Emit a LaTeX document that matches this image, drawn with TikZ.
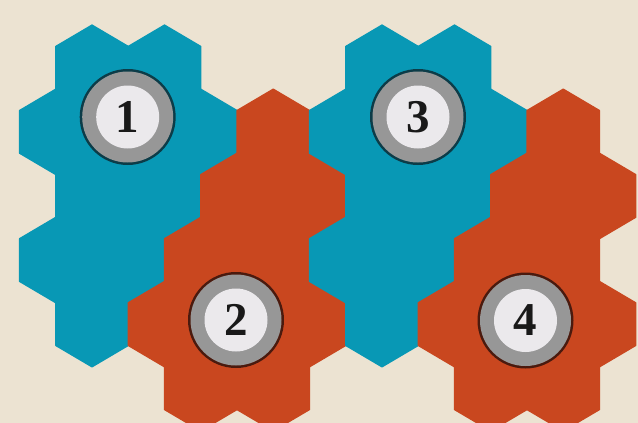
\documentclass[tikz,border=0pt]{standalone}
\usepackage{fontspec}
\setmainfont{Liberation Serif}
\definecolor{bgc}{HTML}{ECE3D2}
\definecolor{bluec}{HTML}{0898B5}
\definecolor{redc}{HTML}{C9471F}
\definecolor{bluering}{HTML}{0C3C48}
\definecolor{redring}{HTML}{4A1A0E}
\definecolor{greyring}{HTML}{979797}
\definecolor{diskc}{HTML}{EBE9EC}
\tikzset{
  hexcell/.pic={
    \path[pic actions] (0,-42.75) -- (36.25,-21.375) -- (36.25,21.375) -- (0,42.75)
      -- (-36.25,21.375) -- (-36.25,-21.375) -- cycle;
  },
  bluehex/.style={fill=bluec,draw=bluec,line width=1.2pt,line join=round},
  redhex/.style={fill=redc,draw=redc,line width=1.2pt,line join=round},
  numlabel/.style={font=\fontsize{47}{47}\selectfont\bfseries,text=black!90,inner sep=0pt}
}
\newcommand{\markercircle}[4]{%
  \fill[#4] (#1,#2) circle (48);
  \fill[greyring] (#1,#2) circle (45.5);
  \fill[diskc] (#1,#2) circle (31.5);
  \node[numlabel] (n#3) at (#1,#2) {#3};
}
\begin{document}
\begin{tikzpicture}[x=1pt,y=-1pt]
\fill[bgc] (0,0) rectangle (638,423);
\useasboundingbox (0,0) rectangle (638,423);
\def\rA{67.75}\def\rB{131.85}\def\rC{195.95}\def\rD{260.05}\def\rE{324.15}\def\rF{388.25}
\foreach \dx in {0,290}{
  % blue shape
  \foreach \cx/\cy in {92/\rA,164.5/\rA,
                       55.75/\rB,128.25/\rB,200.75/\rB,
                       92/\rC,164.5/\rC,
                       55.75/\rD,128.25/\rD,
                       92/\rE}{
    \pic[bluehex] at (\cx+\dx,\cy) {hexcell};
  }
  % red shape
  \foreach \cx/\cy in {273.25/\rB,
                       237/\rC,309.5/\rC,
                       200.75/\rD,273.25/\rD,
                       164.5/\rE,237/\rE,309.5/\rE,
                       200.75/\rF,273.25/\rF}{
    \pic[redhex] at (\cx+\dx,\cy) {hexcell};
  }
}
\markercircle{127.7}{117}{1}{bluering}
\markercircle{236}{320}{2}{redring}
\markercircle{418}{117}{3}{bluering}
\markercircle{525.5}{320.5}{4}{redring}
\end{tikzpicture}
\end{document}
